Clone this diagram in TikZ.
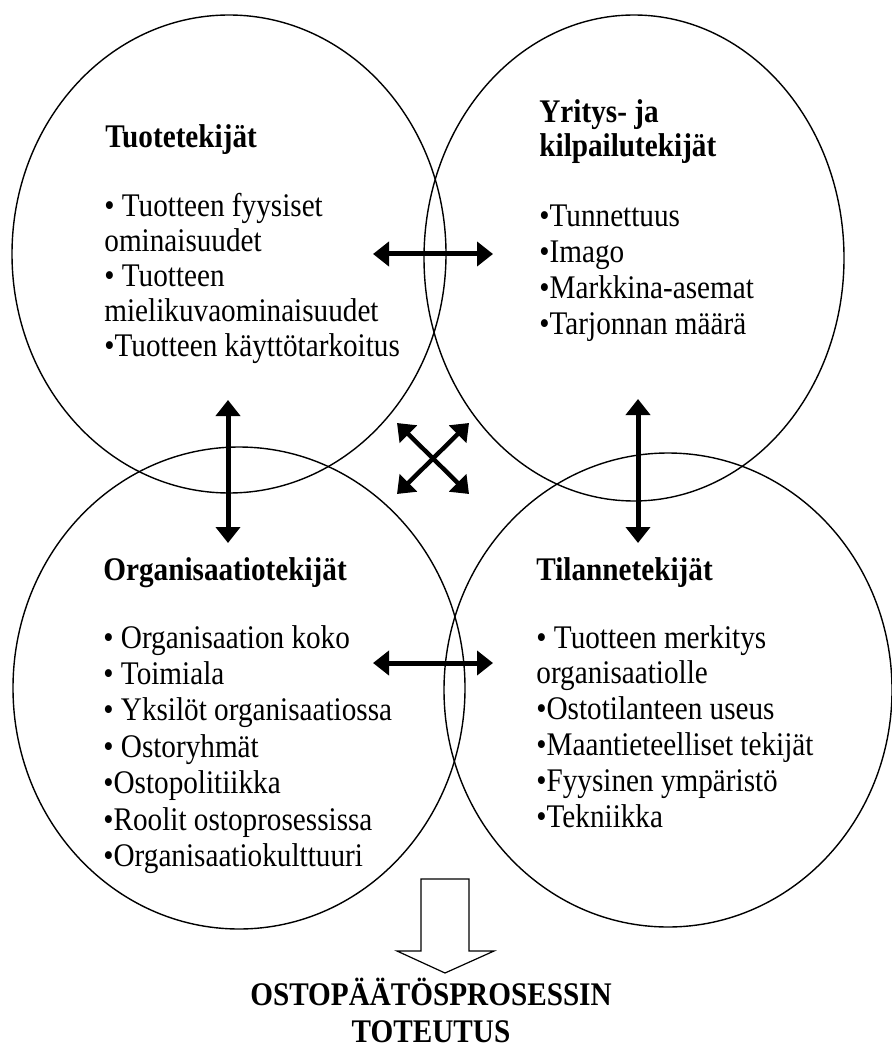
\documentclass[tikz,border=0pt]{standalone}
\usepackage{fontspec}
\setmainfont{Liberation Serif}[FakeStretch=0.885]
\usetikzlibrary{arrows.meta}

\begin{document}
\begin{tikzpicture}[x=0.5pt,y=-0.5pt,
  soikio/.style={line width=0.7pt},
  nuoli/.style={line width=2.5pt,{Triangle[length=8pt,width=12pt]}-{Triangle[length=8pt,width=12pt]}},
  otsikko/.style={anchor=base west,inner sep=0pt,font=\fontsize{16.5}{17}\selectfont\bfseries},
  lista/.style={anchor=base west,inner sep=0pt,font=\fontsize{16.5}{18}\selectfont}]

\useasboundingbox (0,0) rectangle (891,1047);

\draw[soikio] (229,254) ellipse [x radius=217, y radius=239];
\draw[soikio] (634,258) ellipse [x radius=210, y radius=243];
\draw[soikio] (239,688) ellipse [x radius=226, y radius=241];
\draw[soikio] (668,690) ellipse [x radius=224, y radius=237];


\node[otsikko] (tuote) at (105,148) {Tuotetekijät};
\node[lista,font=\fontsize{16.5}{17.4}\selectfont] (tuotelista) at (104,217) {\begin{tabular}[t]{@{}l@{}}• Tuotteen fyysiset\\ominaisuudet\\• Tuotteen\\mielikuvaominaisuudet\\•Tuotteen käyttötarkoitus\end{tabular}};

\node[otsikko] (yritys) at (539,123) {\begin{tabular}[t]{@{}l@{}}Yritys- ja\\kilpailutekijät\end{tabular}};
\node[lista] (yrityslista) at (539,227) {\begin{tabular}[t]{@{}l@{}}•Tunnettuus\\•Imago\\•Markkina-asemat\\•Tarjonnan määrä\end{tabular}};

\node[otsikko] (organisaatio) at (103,580) {Organisaatiotekijät};
\node[lista,font=\fontsize{16.5}{18.2}\selectfont] (organisaatiolista) at (103,648) {\begin{tabular}[t]{@{}l@{}}• Organisaation koko\\• Toimiala\\• Yksilöt organisaatiossa\\• Ostoryhmät\\•Ostopolitiikka\\•Roolit ostoprosessissa\\•Organisaatiokulttuuri\end{tabular}};

\node[otsikko] (tilanne) at (536,580) {Tilannetekijät};
\node[lista,font=\fontsize{16.5}{17.9}\selectfont] (tilannelista) at (536,648) {\begin{tabular}[t]{@{}l@{}}• Tuotteen merkitys\\organisaatiolle\\•Ostotilanteen useus\\•Maantieteelliset tekijät\\•Fyysinen ympäristö\\•Tekniikka\end{tabular}};


\coordinate (yla1) at (373,254);
\coordinate (yla2) at (493,254);
\draw[nuoli] (yla1) -- (yla2);

\coordinate (ala1) at (373,663);
\coordinate (ala2) at (493,663);
\draw[nuoli] (ala1) -- (ala2);

\coordinate (vas1) at (228,400);
\coordinate (vas2) at (228,543);
\draw[nuoli] (vas1) -- (vas2);

\coordinate (oik1) at (638,399);
\coordinate (oik2) at (638,543);
\draw[nuoli] (oik1) -- (oik2);

\coordinate (risti1) at (397,423);
\coordinate (risti2) at (469,494);
\coordinate (risti3) at (469,423);
\coordinate (risti4) at (397,494);
\draw[nuoli,line width=2.2pt] (risti1) -- (risti2);
\draw[nuoli,line width=2.2pt] (risti3) -- (risti4);


\draw[line width=0.6pt] (421,879) -- (469,879) -- (469,951) -- (494,951) -- (445,973) -- (397,951) -- (421,951) -- cycle;

\node[anchor=base,inner sep=0pt,font=\fontsize{16.5}{18.5}\selectfont\bfseries] (toteutus) at (431,1005) {\begin{tabular}[t]{@{}c@{}}OSTOPÄÄTÖSPROSESSIN\\TOTEUTUS\end{tabular}};
\end{tikzpicture}
\end{document}
